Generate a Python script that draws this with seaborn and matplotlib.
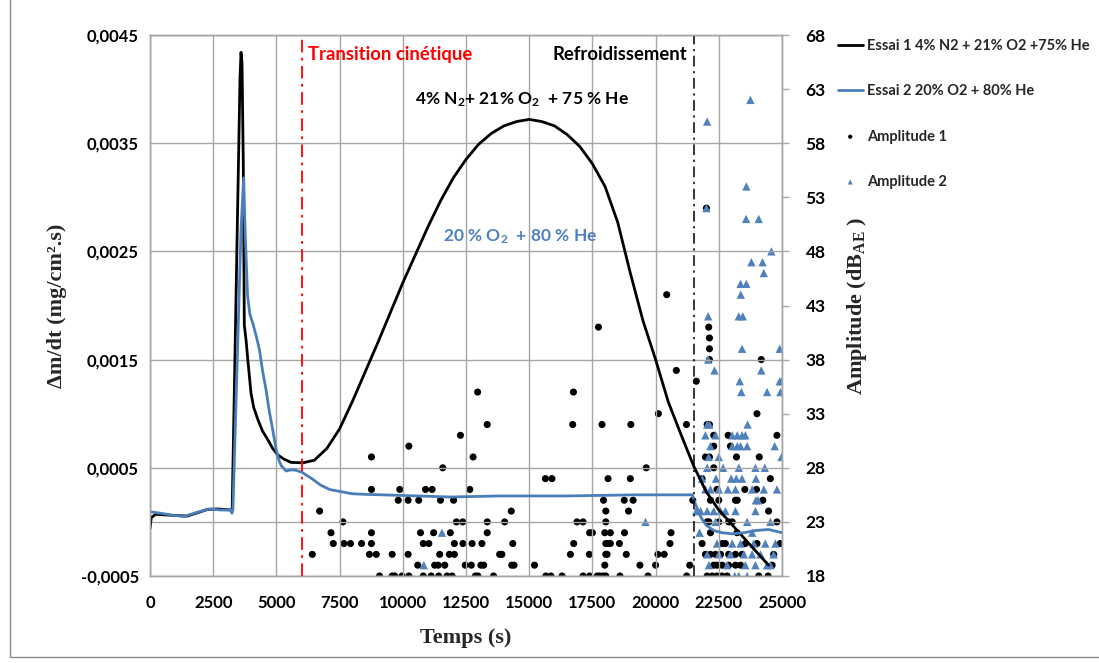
import numpy as np
import pandas as pd
import matplotlib
matplotlib.use("Agg")
import matplotlib.pyplot as plt
import seaborn as sns
from matplotlib.patches import Rectangle

# Essai 1 : 4% N2 + 21% O2 + 75% He  (time s, dm/dt mg/cm2.s)
t_essai1 = [0, 50, 225, 950, 1480, 2275, 2670, 3200, 3250, 3560, 3600, 3640, 3690, 3730,
            3800, 3860, 3930, 3995, 4100, 4260, 4450, 4660, 4850, 5050, 5300, 5580, 6045,
            6500, 7000, 7500, 8000, 8500, 9000, 9500, 10000, 10500, 11000, 11500, 12000,
            12500, 13000, 13500, 14000, 14500, 15000, 15500, 16000, 16500, 17000, 17500,
            18000, 18500, 19000, 19500, 20000, 20500, 21000, 21500, 22000, 22500, 23000,
            23500, 24000, 24470]
v_essai1 = [-0.00006, 0.00004, 0.00007, 0.00006, 0.000054, 0.000115, 0.00012, 0.00011,
            0.00011, 0.0041, 0.00434, 0.00424, 0.00332, 0.00182, 0.00168, 0.00152, 0.00135,
            0.00119, 0.00106, 0.00095, 0.00084, 0.00076, 0.00068, 0.00062, 0.00058, 0.00055,
            0.000546, 0.00057, 0.00068, 0.00086, 0.00111, 0.00138, 0.00165, 0.00193, 0.00221,
            0.00247, 0.00273, 0.00297, 0.00318, 0.00335, 0.00349, 0.00359, 0.00366, 0.0037,
            0.00372, 0.0037, 0.00366, 0.00358, 0.00347, 0.00331, 0.0031, 0.00277, 0.0023,
            0.00186, 0.0015, 0.00111, 0.00081, 0.00052, 0.00028, 0.00011, -0.00002, -0.00015,
            -0.00028, -0.0004]

# Essai 2 : 20% O2 + 80% He
t_essai2 = [0, 420, 950, 1350, 1880, 2340, 2800, 3200, 3240, 3280, 3600, 3705, 3760, 3860,
            3950, 4060, 4200, 4330, 4450, 4590, 4720, 4855, 4990, 5100, 5190, 5385, 5550,
            5715, 6000, 6400, 6750, 7100, 7540, 8000, 8590, 9910, 11880, 13860, 16500, 19140,
            21450, 21600, 21800, 22000, 22300, 22630, 23030, 23490, 23950, 24470, 25000]
v_essai2 = [0.000094, 0.00008, 0.00006, 0.00005, 0.00009, 0.00012, 0.00011, 0.00011,
            0.00008, 0.00011, 0.0027, 0.00318, 0.0027, 0.00209, 0.00192, 0.00184, 0.00172,
            0.00159, 0.0014, 0.00122, 0.00102, 0.00085, 0.00067, 0.00057, 0.00052, 0.00047,
            0.00048, 0.00048, 0.00046, 0.0004, 0.00034, 0.0003, 0.00028, 0.00026, 0.000254,
            0.000245, 0.00023, 0.00024, 0.00024, 0.00025, 0.00025, 0.00015, 0.00004,
            -0.00003, -0.00008, -0.0001, -0.00011, -0.0001, -0.00008, -0.00007, -0.0001]

# Amplitude 1 (black dots): time s, amplitude dB
amp1_t = [6420, 6710, 7160, 7250, 7630, 7670, 7930, 8370, 8760, 8760, 8760, 8760, 8680, 8950,
          9080, 9580, 9580, 9680, 9820, 9880, 9970, 10210, 10240, 10210, 10240, 10630, 10700,
          10590, 10810, 11030, 10810, 10900, 11160, 11220, 11120, 11260, 11400, 11460, 11420,
          11490, 11580, 11660, 11750, 11840, 11880, 11950, 12010, 12040, 12040, 12120, 12370,
          12280, 12380, 12470, 12650, 12710, 12780, 12740, 12960, 12870, 12970, 13090, 13200,
          13130, 13340, 13340, 13340, 13590, 13830,
          14030, 14290, 14350, 13920, 14310, 14400, 15210, 15640, 15900, 15660, 15860, 16300,
          16630, 16760, 16750, 16720, 16890, 17130, 17130, 17390, 17500, 17380, 17390, 17740,
          17690, 17790, 17880, 17940, 18030, 18030, 17990, 18210, 18030, 18120, 18210, 18030,
          18080, 17990, 17920, 18030, 18120, 18570, 18590, 18760, 18770, 18840, 18930, 19000,
          19020, 19110, 19380, 19630, 19700, 20000, 20090, 20110, 20340, 20440, 20570, 20610,
          20820, 21220, 21350, 21230, 21470,
          22010, 22100, 22130, 22130, 22130, 21610, 22040, 22130, 22300, 22870, 22130, 21970,
          22300, 22960, 22300, 23200, 24180, 24010, 24100, 24800, 24540, 23530, 23990, 24240,
          23160, 23230, 22170, 22500, 21840, 22430, 24470, 22040, 22110, 22500, 22890, 23030,
          24800, 22170, 23220, 21840, 22630, 22760, 23550, 24010, 24930, 21970, 22170, 22370,
          22570, 22890, 23160, 23420, 24670, 22300, 22430, 22630, 22890, 23160, 23360, 24610,
          22040, 22240, 22430, 22630, 22830, 24080, 24450]
amp1_db = [20, 24, 22, 21, 23, 21, 21, 21, 29, 26, 22, 21, 20, 20,
           18, 20, 18, 18, 25, 26, 18, 25, 30, 20, 18, 25, 22,
           19, 21, 21, 18, 26, 26, 22, 18, 19, 19, 20, 18,
           25, 28, 19, 18, 20, 22, 18, 25, 21, 20, 23, 23,
           31, 21, 19, 26, 19, 29, 21, 35, 18, 18, 19, 19,
           21, 32, 23, 22, 18, 20,
           23, 24, 21, 20, 19, 19, 19, 27, 27, 18, 18, 18,
           20, 21, 35, 32, 23, 23, 18, 22, 22, 20, 18, 41,
           18, 18, 32, 25, 24, 23, 22, 22, 21, 21, 21, 20,
           20, 19, 18, 18, 27, 21, 18, 25, 22, 20, 24, 27,
           32, 25, 19, 28, 18, 19, 20, 33, 20, 44, 21, 22,
           37, 32, 19, 18, 25,
           52, 41, 40, 39, 38, 36, 32, 32, 31, 31, 29, 29,
           30, 30, 28, 29, 38, 33, 29, 31, 27, 26, 26, 25,
           25, 25, 25, 25, 27, 26, 24, 23, 23, 23, 23, 23,
           23, 22, 22, 21, 21, 21, 21, 21, 21, 20, 20, 20,
           20, 20, 20, 20, 20, 19, 19, 19, 19, 19, 19, 19,
           18, 18, 18, 18, 18, 18, 18]

# Amplitude 2 (blue triangles)
amp2_t = [10830, 11550, 19600,
          22040, 23750, 23590, 23580, 24080, 24580, 23790, 24230, 24280, 23360, 23590, 23370,
          23290, 23450, 22080, 22010,
          23420, 24910, 22080, 22330, 24180, 23330, 24910, 24990, 23390, 24410, 24940, 23640,
          22040, 22130, 21970, 22370, 23030, 23230, 23420, 23550, 22170, 23030, 23230, 23360,
          23620, 24710, 22100, 22500, 23950, 24320, 24980, 22040, 22670, 23290, 21840, 22390,
          22990, 23190, 23420, 23970, 21970, 22170, 22500, 22860, 23160, 23820, 24280, 24800,
          21610, 21780, 22040, 22300, 22570, 22760, 23160, 23950, 24050, 23970, 21740, 22370,
          23620, 24540, 23820, 22430, 23030, 23360, 23880, 24340, 24740, 22040, 22500, 22960,
          23490, 23820, 24150, 24670, 22110, 22830, 23550, 23950, 24410, 24540, 23130, 23290,
          23620]
amp2_db = [19, 22, 23,
           60, 62, 54, 51, 51, 48, 47, 47, 46, 45, 45, 44,
           42, 42, 42, 52,
           39, 39, 38, 37, 37, 36, 36, 36, 35, 35, 35, 32,
           32, 32, 31, 31, 31, 31, 31, 31, 30, 30, 30, 30,
           30, 30, 29, 29, 28, 28, 29, 28, 28, 28, 27, 27,
           27, 27, 27, 27, 26, 26, 26, 26, 26, 26, 26, 26,
           24, 24, 24, 24, 24, 24, 24, 24, 25, 25, 22, 23,
           23, 23, 22, 21, 21, 21, 21, 21, 21, 20, 20, 20,
           20, 20, 20, 20, 19, 19, 19, 19, 19, 19, 18, 18,
           18]

x_ticks = [0, 2500, 5000, 7500, 10000, 12500, 15000, 17500, 20000, 22500, 25000]
y_ticks = [-0.0005, 0.0005, 0.0015, 0.0025, 0.0035, 0.0045]
y_tick_labels = ["-0,0005", "0,0005", "0,0015", "0,0025", "0,0035", "0,0045"]
db_ticks = [18, 23, 28, 33, 38, 43, 48, 53, 58, 63, 68]
t_transition = 6000
t_refroid = 21500

black = "#000000"
blue = "#4A7EBB"
tri_blue = "#4F81BD"
grid_c = "#a6a6a6"
sans = ["Lato", "DejaVu Sans"]
serif = ["Liberation Serif", "DejaVu Serif"]

sns.set_theme(style="white")
plt.rcParams["font.family"] = sans
plt.rcParams["mathtext.fontset"] = "custom"
plt.rcParams["mathtext.rm"] = "Lato:bold"
plt.rcParams["mathtext.it"] = "Lato:bold"
plt.rcParams["mathtext.bf"] = "Lato:bold"

df1 = pd.DataFrame({"t": t_essai1, "v": v_essai1})
df2 = pd.DataFrame({"t": t_essai2, "v": v_essai2})
da1 = pd.DataFrame({"t": amp1_t, "db": amp1_db})
da2 = pd.DataFrame({"t": amp2_t, "db": amp2_db})

fig = plt.figure(figsize=(10.99, 6.63), dpi=100)
ax = fig.add_axes([150 / 1099, 1 - 576 / 663, 632 / 1099, 541 / 663])
ax2 = ax.twinx()
ax.set_zorder(ax2.get_zorder() + 1)
ax.patch.set_visible(False)

sns.scatterplot(data=da1, x="t", y="db", ax=ax2, marker="o", s=26, color=black,
                edgecolor="none", label="Amplitude 1", legend=False)
sns.scatterplot(data=da2, x="t", y="db", ax=ax2, marker="^", s=36, color=tri_blue,
                edgecolor="none", label="Amplitude 2", legend=False)

sns.lineplot(data=df1, x="t", y="v", ax=ax, color=black, lw=2.0, sort=False,
             label="Essai 1 4% N2 + 21% O2 +75% He", legend=False)
sns.lineplot(data=df2, x="t", y="v", ax=ax, color=blue, lw=2.0, sort=False,
             label="Essai 2 20% O2 + 80% He", legend=False)

ax.axvline(t_transition, color="#ff0000", lw=1.3, ls=(0, (7, 3, 1.5, 3)))
ax.axvline(t_refroid, color=black, lw=1.1, ls=(0, (7, 3, 1.5, 3)))
ax.axhline(0, color=grid_c, lw=1.0, zorder=0)

ax.set_xlim(0, 25000)
ax.set_ylim(-0.0005, 0.0045)
ax2.set_ylim(18, 68)
ax.set_xticks(x_ticks)
ax.set_xticklabels([str(v) for v in x_ticks], fontsize=12, fontweight="bold")
ax.set_yticks(y_ticks)
ax.set_yticklabels(y_tick_labels, fontsize=12, fontweight="bold")
ax2.set_yticks(db_ticks)
ax2.set_yticklabels([str(v) for v in db_ticks], fontsize=12.5, fontweight="bold")
ax.grid(True, color=grid_c, lw=1.0)
ax2.grid(False)
ax.tick_params(axis="x", length=0, pad=14, colors=black)
ax.tick_params(axis="y", length=0, pad=8, colors=black)
ax2.tick_params(axis="y", length=5, width=1, color=grid_c, pad=12, colors=black)
for a in (ax, ax2):
    for s in a.spines.values():
        s.set_color(grid_c)
        s.set_linewidth(1.0)

ax.set_xlabel("Temps (s)", fontsize=16, fontweight="bold", family=serif, labelpad=12)
ax.set_ylabel("Δm/dt (mg/cm².s)", fontsize=16, fontweight="bold", family=serif, labelpad=10)
ax2.set_ylabel("Amplitude (dB$_{\\mathregular{AE}}$ )", fontsize=16, fontweight="bold",
               family=serif, labelpad=14)

ax.text(6250, 0.00432, "Transition cinétique", color="#ff0000", fontsize=13.3,
        fontweight="bold", va="center", ha="left")
ax.text(21250, 0.00432, "Refroidissement", color=black, fontsize=13.3,
        fontweight="bold", va="center", ha="right")
ax.text(10480, 0.0039, "4% N$_2$+ 21% O$_2$  + 75 % He", color=black, fontsize=12.5,
        fontweight="bold", va="center", ha="left")
ax.text(11590, 0.00264, "20 % O$_2$  + 80 % He", color=tri_blue, fontsize=12.5,
        fontweight="bold", va="center", ha="left")

h1, l1 = ax.get_legend_handles_labels()
h2, l2 = ax2.get_legend_handles_labels()
fig.legend(h1 + h2, l1 + l2, loc="upper left", bbox_to_anchor=(832 / 1099, 1 - 33 / 663),
           frameon=False, prop={"family": sans, "weight": "bold", "size": 10.5},
           labelspacing=2.15, handlelength=1.7, handletextpad=0.3, markerscale=0.6,
           borderaxespad=0)

fig.patches.append(Rectangle((10 / 1099, 6 / 663), 1.1, 1.0, transform=fig.transFigure,
                             fill=False, edgecolor="#8c8c8c", lw=1.0))

fig.savefig("out.png", dpi=100)
